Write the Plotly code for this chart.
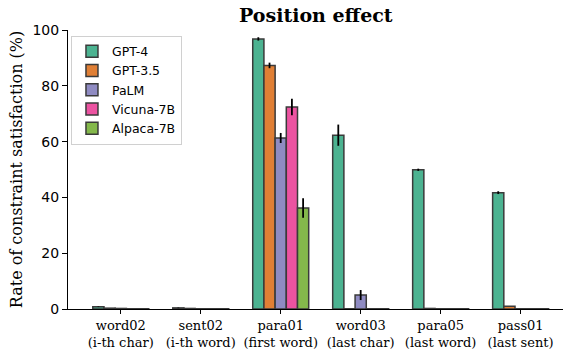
import plotly.graph_objects as go

categories = ["word02<br>(i-th char)", "sent02<br>(i-th word)", "para01<br>(first word)",
              "word03<br>(last char)", "para05<br>(last word)", "pass01<br>(last sent)"]
models = ["GPT-4", "GPT-3.5", "PaLM", "Vicuna-7B", "Alpaca-7B"]
values = {
    "GPT-4":     [0.8, 0.4, 96.8, 62.3, 49.9, 41.7],
    "GPT-3.5":   [0.3, 0.2, 87.3, 0.1, 0.2, 1.0],
    "PaLM":      [0.2, 0.1, 61.3, 5.0, 0.1, 0.1],
    "Vicuna-7B": [0.1, 0.1, 72.4, 0.1, 0.1, 0.1],
    "Alpaca-7B": [0.1, 0.1, 36.2, 0.1, 0.1, 0.1],
}
errors = {
    "GPT-4":     [0.1, 0.1, 0.6, 3.8, 0.4, 0.5],
    "GPT-3.5":   [0, 0, 1.0, 0, 0, 0],
    "PaLM":      [0, 0, 1.8, 1.8, 0, 0],
    "Vicuna-7B": [0, 0, 3.0, 0, 0, 0],
    "Alpaca-7B": [0, 0, 3.5, 0, 0, 0],
}
colors = ["#4cb391", "#e07f35", "#8f8bc2", "#ec53a1", "#84b84b"]

fig = go.Figure()
for m, c in zip(models, colors):
    fig.add_trace(go.Bar(
        x=list(range(len(categories))), y=values[m], name=m,
        marker=dict(color=c, line=dict(color="#3a3a3a", width=1.5)),
        error_y=dict(type="data", array=errors[m], color="black", thickness=1.8, width=0,
                     visible=True),
    ))

fig.update_layout(
    width=564, height=350,
    margin=dict(l=68, r=1, t=30, b=41, autoexpand=False),
    paper_bgcolor="white", plot_bgcolor="white",
    barmode="group", bargap=0.3, bargroupgap=0,
    title=dict(text="<b>Position effect</b>", x=0.56, xanchor="center", y=0.955, yanchor="middle",
               font=dict(family="DejaVu Serif", size=19, color="black")),
    legend=dict(x=0.006, y=0.98, xanchor="left", yanchor="top",
                bordercolor="#d0d0d0", borderwidth=1, bgcolor="white",
                font=dict(family="DejaVu Sans", size=12.5, color="black"),
                itemwidth=30, tracegroupgap=0),
    showlegend=True,
)
fig.update_xaxes(
    range=[-0.66, 5.53], tickmode="array", tickvals=list(range(len(categories))),
    ticktext=categories, tickangle=0, showline=True, linecolor="black", linewidth=1,
    ticks="outside", ticklen=4, tickcolor="black", showgrid=False, zeroline=False,
    automargin=False,
    tickfont=dict(family="DejaVu Serif", size=13, color="black"),
)
fig.update_yaxes(
    range=[0, 100], tickvals=[0, 20, 40, 60, 80, 100], showline=True, linecolor="black",
    linewidth=1, ticks="outside", ticklen=5, tickcolor="black", showgrid=False, zeroline=False,
    automargin=False,
    tickfont=dict(family="DejaVu Sans", size=14, color="black"),
    title=dict(text="Rate of constraint satisfaction (%)", standoff=5,
               font=dict(family="DejaVu Serif", size=16, color="black")),
)
fig.write_html("out.html", config={"displayModeBar": False},
               post_script="document.body.style.margin='0';document.body.style.overflow='hidden';")
